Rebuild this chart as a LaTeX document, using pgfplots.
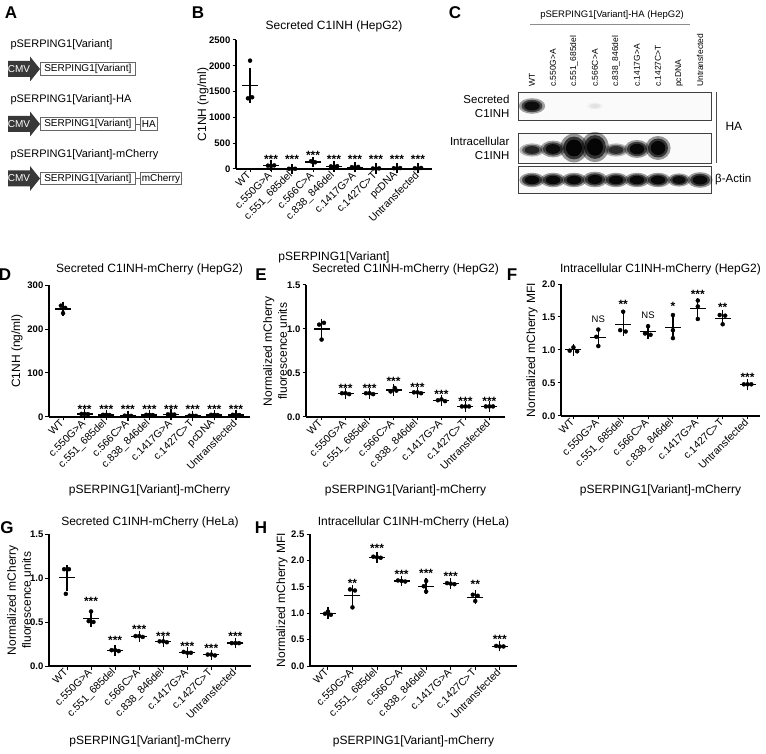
\documentclass[border=0pt]{standalone}
\usepackage{fontspec}
\setmainfont{Liberation Sans}
\usepackage{pgfplots}
\usepackage{pgfplotstable}
\pgfplotsset{compat=1.18}
\newcommand{\fs}[2]{\fontsize{#1}{#2}\selectfont}

\pgfplotsset{
  gp/.style={
    scale only axis, clip=false,
    axis x line*=bottom, axis y line*=left,
    axis line style={line width=1.3pt},
    every tick/.append style={line width=1pt, black},
    major tick length=3.5pt,
    tick align=outside,
    ymin=0,
    xticklabel style={rotate=45, anchor=east, font=\fs{10.5}{12}, inner sep=1.5pt},
    yticklabel style={font=\bfseries\fs{9.5}{11}, inner sep=2pt},
    label style={font=\fs{12}{15}},
    title style={font=\fs{12}{14}, anchor=center},
    ylabel style={anchor=center, align=center},
    xlabel style={anchor=center},
  },
  pts/.style={only marks, mark=*, mark size=2pt, black, mark options={fill=black}},
  mn/.style={only marks, mark=-, mark size=8pt, black, mark options={line width=1.3pt},
      error bars/y dir=both, error bars/y explicit,
      error bars/error bar style={line width=1.3pt, black},
      error bars/error mark options={mark size=5pt, line width=1.3pt, black}},
  ann/.style={draw=none, mark=none, nodes near coords, point meta=explicit symbolic,
      every node near coord/.append style={anchor=center, font=\bfseries\fs{12}{13}, inner sep=0pt, yshift=-2.5pt}},
  nsann/.style={draw=none, mark=none, nodes near coords, point meta=explicit symbolic,
      every node near coord/.append style={anchor=center, font=\fs{9.5}{10}, inner sep=0pt}},
  band/.style 2 args={scatter, only marks, mark=*, mark size=1pt,
      scatter/use mapped color={draw=none, fill=black},
      visualization depends on={#1*\thisrow{w} \as \bw},
      visualization depends on={#1*\thisrow{h} \as \bh},
      visualization depends on={#2*\thisrow{k} \as \bk},
      scatter/@pre marker code/.append code={\pgftransformxscale{\bw}\pgftransformyscale{\bh}\pgfsetfillopacity{\bk}\pgfsetstrokeopacity{0}\pgfsetlinewidth{0pt}}},
  blot/.style={scale only axis, width=193pt, xmin=518, xmax=711, xtick=\empty, ytick=\empty,
      axis line style={draw=black!75, line width=0.8pt}, axis background/.style={fill=black!2}, anchor=south west},
}

\pgfplotstableread{
x y w h k
532 -106 11 6.5 0.9
595 -106 7 3 0.05
}\bandsec
\pgfplotstableread{
x y w h k
532 -150 10.5 5.5 0.7
553 -149 10.5 7 0.9
574 -148 11.5 12 1
595 -147 11.5 12.5 1
616 -150 10.5 5.5 0.65
637 -149 10.5 7.5 0.95
658 -148 10.5 10 1
}\bandint
\pgfplotstableread{
x y w h k
532 -180 10.5 6 0.95
553 -180 10.5 6 0.95
574 -180 10.5 6 0.95
595 -179.5 10.5 6.5 0.95
616 -180 10.5 6 0.95
637 -180 10.5 6 0.95
658 -180 10.5 6 0.95
679 -180 9.5 5.5 0.9
700 -180 10.5 6.5 0.95
}\bandact

\newcommand{\construct}[1]{%
 \fill[black!78] (8pt,-8pt) -- (30pt,-8pt) -- (30pt,-12.5pt) -- (40pt,0pt) -- (30pt,12.5pt) -- (30pt,8pt) -- (8pt,8pt) -- cycle;
 \node[white, font=\fs{10}{12}] at (19pt,0) {CMV};
 \node[draw=black!60, line width=0.6pt, anchor=west, minimum height=12.5pt, minimum width=95pt, inner sep=1pt, font=\fs{10}{12}] at (40pt,0) {SERPING1[Variant]};
}

\begin{document}
\begin{tikzpicture}
\path[use as bounding box] (0,0) rectangle (766pt,753pt);

% ---------------- Panel A ----------------
\node[font=\bfseries\fs{17}{19}] at (11pt,740pt) {A};
\node[anchor=west, font=\fs{11}{13}] at (7pt,708pt) {pSERPING1[Variant]};
\begin{scope}[yshift=684pt]\construct{}\end{scope}
\node[anchor=west, font=\fs{11}{13}] at (7pt,653pt) {pSERPING1[Variant]-HA};
\begin{scope}[yshift=629pt]\construct{}
 \draw[black!60, line width=0.6pt] (135pt,0) -- (140pt,0);
 \node[draw=black!60, line width=0.6pt, anchor=west, minimum height=12.5pt, inner sep=1.5pt, font=\fs{10}{12}] at (140pt,0) {HA};
\end{scope}
\node[anchor=west, font=\fs{11}{13}] at (7pt,598pt) {pSERPING1[Variant]-mCherry};
\begin{scope}[yshift=574.5pt]\construct{}
 \draw[black!60, line width=0.6pt] (135pt,0) -- (140pt,0);
 \node[draw=black!60, line width=0.6pt, anchor=west, minimum height=12.5pt, inner sep=1.5pt, font=\fs{10}{12}] at (140pt,0) {mCherry};
\end{scope}

% ---------------- Panel B ----------------
\begin{axis}[gp, at={(236pt,584pt)}, anchor=south west, width=196pt, height=129pt,
  xmin=-0.67, xmax=8.67, ymax=2500, xtick={0,...,8},
  ytick={0,500,1000,1500,2000,2500}, yticklabels={0,500,1000,1500,2000,2500},
  xticklabels={WT,c.550G>A,c.551\_685del,c.566C>A,c.838\_846del,c.1417G>A,c.1427C>T,pcDNA,Untransfected},
  ylabel={C1NH (ng/ml)}, xlabel={pSERPING1[Variant]}, title={Secreted C1INH (HepG2)},
  ylabel style={at={([xshift=-33pt]axis description cs:0,0.5)}},
  xlabel style={at={([yshift=-88pt]axis description cs:0.5,0)}},
  title style={at={([yshift=8pt]axis description cs:0.5,1)}}]
\addplot[pts] table {
x y
0 2100
-0.1 1370
0.1 1390
0.85 65
1 60
1.15 70
1.85 5
2 5
2.15 5
2.9 150
3.1 130
3 135
3.85 50
4 45
4.15 55
4.85 35
5 30
5.15 40
5.85 10
6 8
6.15 12
6.85 15
7 12
7.15 18
7.85 15
8 10
8.15 20
};
\addplot[mn] table[x=x, y=m, y error=s] {
x m s
0 1620 240
1 65 3
2 5 1
3 138 6
4 50 3
5 35 3
6 10 1
7 15 2
8 15 3
};
\addplot[ann] table[x=x, y=y, meta=t] {
x y t
1 233 ***
2 233 ***
3 310 ***
4 233 ***
5 233 ***
6 233 ***
7 233 ***
8 233 ***
};
\end{axis}
\node[font=\bfseries\fs{17}{19}] at (198pt,740pt) {B};

% ---------------- Panel C (blot) ----------------
\node[font=\bfseries\fs{17}{19}] at (455pt,740pt) {C};
\node[font=\fs{9.5}{11}] at (612pt,738pt) {pSERPING1[Variant]-HA (HepG2)};
\draw[black!45, line width=1pt] (530pt,728pt) -- (690pt,728pt);
\foreach \x/\l in {532/WT, 553/c.550G>A, 574/c.551\_685del, 595/c.566C>A, 616/c.838\_846del, 637/c.1417G>A, 658/c.1427C>T, 679/pcDNA, 700/Untransfected}
  \node[rotate=90, anchor=west, font=\fs{8.5}{10}, inner sep=1pt] at (\x pt,665pt) {\l};
\begin{axis}[blot, at={(518pt,633pt)}, height=28pt, ymin=-120, ymax=-92]
\addplot[band={1.2}{0.4}] table {\bandsec};
\addplot[band={0.95}{0.65}] table {\bandsec};
\addplot[band={0.7}{0.9}] table {\bandsec};
\end{axis}
\begin{axis}[blot, at={(518pt,590pt)}, height=30pt, ymin=-163, ymax=-133]
\addplot[band={1.2}{0.4}] table {\bandint};
\addplot[band={0.95}{0.65}] table {\bandint};
\addplot[band={0.7}{0.9}] table {\bandint};
\end{axis}
\begin{axis}[blot, at={(518pt,560pt)}, height=27pt, ymin=-193, ymax=-166]
\addplot[band={1.2}{0.4}] table {\bandact};
\addplot[band={0.95}{0.65}] table {\bandact};
\addplot[band={0.7}{0.9}] table {\bandact};
\end{axis}
\node[anchor=east, align=right, font=\fs{11.5}{14}] at (513pt,647pt) {Secreted\\C1INH};
\node[anchor=east, align=right, font=\fs{11.5}{14}] at (513pt,605pt) {Intracellular\\C1INH};
\draw[black!70, line width=0.7pt] (716pt,661pt) -- (716pt,590pt);
\node[anchor=west, font=\fs{12}{14}] at (722pt,627pt) {HA};
\node[anchor=west, font=\fs{11.5}{14}, inner sep=1pt] at (714pt,573pt) {β-Actin};

% ---------------- Panel D ----------------
\begin{axis}[gp, at={(49pt,336pt)}, anchor=south west, width=201pt, height=132pt,
  xmin=-0.65, xmax=8.65, ymax=300, xtick={0,...,8},
  ytick={0,100,200,300}, yticklabels={0,100,200,300},
  xticklabels={WT,c.550G>A,c.551\_685del,c.566C>A,c.838\_846del,c.1417G>A,c.1427C>T,pcDNA,Untransfected},
  ylabel={C1NH (ng/ml)}, xlabel={pSERPING1[Variant]-mCherry}, title={Secreted C1INH-mCherry (HepG2)},
  ylabel style={at={([xshift=-32pt]axis description cs:0,0.5)}},
  xlabel style={at={([yshift=-73pt]axis description cs:0.5,0)}},
  title style={at={([yshift=10pt]axis description cs:0.5,1)}}]
\addplot[pts] table {
x y
-0.1 253
0.1 248
0 236
0.85 7
1 7
1.15 6.5
1.85 5
2 5
2.15 4.5
2.85 3
3 3
3.15 2.5
3.85 5
4 5
4.15 4.5
4.85 6
5 6
5.15 5.5
5.85 3
6 3
6.15 2.5
6.85 5
7 5
7.15 4.5
7.85 5
8 5
8.15 4.5
};
\addplot[mn] table[x=x, y=m, y error=s] {
x m s
0 245.7 5
1 6.8 0.3
2 4.8 0.3
3 2.8 0.3
4 4.8 0.3
5 5.8 0.3
6 2.8 0.3
7 4.8 0.3
8 4.8 0.3
};
\addplot[ann] table[x=x, y=y, meta=t] {
x y t
1 23 ***
2 23 ***
3 23 ***
4 23 ***
5 23 ***
6 23 ***
7 23 ***
8 23 ***
};
\end{axis}
\node[font=\bfseries\fs{17}{19}] at (5pt,478pt) {D};

% ---------------- Panel E ----------------
\begin{axis}[gp, at={(306pt,336pt)}, anchor=south west, width=199pt, height=132pt,
  xmin=-0.65, xmax=7.65, ymax=1.5, xtick={0,...,7},
  ytick={0,0.5,1,1.5}, yticklabels={0.0,0.5,1.0,1.5},
  xticklabels={WT,c.550G>A,c.551\_685del,c.566C>A,c.838\_846del,c.1417G>A,c.1427C>T,Untransfected},
  ylabel={Normalized mCherry\\fluorescence units}, xlabel={pSERPING1[Variant]-mCherry}, title={Secreted C1INH-mCherry (HepG2)},
  ylabel style={at={([xshift=-31pt]axis description cs:0,0.5)}},
  xlabel style={at={([yshift=-73pt]axis description cs:0.5,0)}},
  title style={at={([yshift=10pt]axis description cs:0.5,1)}}]
\addplot[pts] table {
x y
0.1 1.07
-0.1 1.05
0 0.88
0.85 0.27
1 0.27
1.15 0.26
1.85 0.27
2 0.27
2.15 0.26
3.05 0.33
2.88 0.29
3.12 0.30
3.85 0.28
4 0.28
4.15 0.27
4.85 0.19
5 0.20
5.15 0.18
5.85 0.12
6 0.12
6.15 0.12
6.85 0.12
7 0.12
7.15 0.12
};
\addplot[mn] table[x=x, y=m, y error=s] {
x m s
0 1.0 0.06
1 0.267 0.003
2 0.267 0.003
3 0.307 0.012
4 0.277 0.003
5 0.19 0.006
6 0.12 0.002
7 0.12 0.002
};
\addplot[ann] table[x=x, y=y, meta=t] {
x y t
1 0.35 ***
2 0.35 ***
3 0.435 ***
4 0.37 ***
5 0.29 ***
6 0.21 ***
7 0.21 ***
};
\end{axis}
\node[font=\bfseries\fs{17}{19}] at (261pt,478pt) {E};

% ---------------- Panel F ----------------
\begin{axis}[gp, at={(561pt,337pt)}, anchor=south west, width=199pt, height=132pt,
  xmin=-0.5, xmax=7.5, ymax=2.0, xtick={0,...,7},
  ytick={0,0.5,1,1.5,2}, yticklabels={0.0,0.5,1.0,1.5,2.0},
  xticklabels={WT,c.550G>A,c.551\_685del,c.566C>A,c.838\_846del,c.1417G>A,c.1427C>T,Untransfected},
  ylabel={Normalized mCherry MFI}, xlabel={pSERPING1[Variant]-mCherry}, title={Intracellular C1INH-mCherry (HepG2)},
  ylabel style={at={([xshift=-29pt]axis description cs:0,0.5)}},
  xlabel style={at={([yshift=-74pt]axis description cs:0.5,0)}},
  title style={at={([yshift=9pt]axis description cs:0.5,1)}}]
\addplot[pts] table {
x y
-0.15 0.99
0 1.04
0.15 0.98
1 1.31
0.92 1.20
1 1.06
2 1.58
1.88 1.30
2.1 1.28
3 1.36
2.88 1.25
3.1 1.23
4 1.53
4 1.30
4 1.18
5 1.75
5 1.66
5 1.47
5.88 1.53
6.1 1.52
6 1.39
6.85 0.48
7 0.48
7.15 0.48
};
\addplot[mn] table[x=x, y=m, y error=s] {
x m s
0 1.003 0.018
1 1.19 0.072
2 1.387 0.097
3 1.28 0.04
4 1.337 0.102
5 1.627 0.082
6 1.48 0.045
7 0.48 0.003
};
\addplot[ann] table[x=x, y=y, meta=t] {
x y t
2 1.73 **
4 1.70 *
5 1.88 ***
6 1.68 **
7 0.62 ***
};
\addplot[nsann] table[x=x, y=y, meta=t] {
x y t
1 1.47 NS
3 1.53 NS
};
\end{axis}
\node[font=\bfseries\fs{17}{19}] at (512pt,478pt) {F};

% ---------------- Panel G ----------------
\begin{axis}[gp, at={(49pt,87pt)}, anchor=south west, width=202pt, height=132pt,
  xmin=-0.75, xmax=7.65, ymax=1.5, xtick={0,...,7},
  ytick={0,0.5,1,1.5}, yticklabels={0.0,0.5,1.0,1.5},
  xticklabels={WT,c.550G>A,c.551\_685del,c.566C>A,c.838\_846del,c.1417G>A,c.1427C>T,Untransfected},
  ylabel={Normalized mCherry\\fluorescence units}, xlabel={pSERPING1[Variant]-mCherry}, title={Secreted C1INH-mCherry (HeLa)},
  ylabel style={at={([xshift=-30pt]axis description cs:0,0.5)}},
  xlabel style={at={([yshift=-75pt]axis description cs:0.5,0)}},
  title style={at={([yshift=6pt]axis description cs:0.5,1)}}]
\addplot[pts] table {
x y
-0.12 1.10
0.08 1.10
-0.05 0.82
1 0.62
0.9 0.51
1.1 0.50
1.85 0.18
2 0.18
2.15 0.17
2.85 0.34
3 0.34
3.15 0.33
3.85 0.28
4 0.28
4.15 0.27
4.85 0.16
5 0.15
5.15 0.15
5.85 0.13
6 0.13
6.15 0.12
6.85 0.26
7 0.26
7.15 0.26
};
\addplot[mn] table[x=x, y=m, y error=s] {
x m s
0 1.003 0.092
1 0.543 0.038
2 0.177 0.003
3 0.337 0.003
4 0.277 0.003
5 0.153 0.003
6 0.127 0.003
7 0.26 0.002
};
\addplot[ann] table[x=x, y=y, meta=t] {
x y t
1 0.76 ***
2 0.32 ***
3 0.44 ***
4 0.37 ***
5 0.25 ***
6 0.23 ***
7 0.36 ***
};
\end{axis}
\node[font=\bfseries\fs{17}{19}] at (7pt,225pt) {G};

% ---------------- Panel H ----------------
\begin{axis}[gp, at={(310pt,87pt)}, anchor=south west, width=207pt, height=132pt,
  xmin=-0.73, xmax=7.7, ymax=2.5, xtick={0,...,7},
  ytick={0,0.5,1,1.5,2,2.5}, yticklabels={0.0,0.5,1.0,1.5,2.0,2.5},
  xticklabels={WT,c.550G>A,c.551\_685del,c.566C>A,c.838\_846del,c.1417G>A,c.1427C>T,Untransfected},
  ylabel={Normalized mCherry MFI}, xlabel={pSERPING1[Variant]-mCherry}, title={Intracellular C1INH-mCherry (HeLa)},
  ylabel style={at={([xshift=-28pt]axis description cs:0,0.5)}},
  xlabel style={at={([yshift=-75pt]axis description cs:0.5,0)}},
  title style={at={([yshift=6pt]axis description cs:0.5,1)}}]
\addplot[pts] table {
x y
-0.12 0.99
0 1.03
0.12 0.97
0.9 1.45
1.1 1.43
1 1.11
1.85 2.07
2 2.06
2.15 2.05
2.85 1.62
3 1.61
3.15 1.60
4 1.61
3.9 1.51
4 1.41
4.85 1.57
5 1.56
5.15 1.55
5.9 1.35
6.1 1.33
6 1.23
6.85 0.38
7 0.37
7.15 0.37
};
\addplot[mn] table[x=x, y=m, y error=s] {
x m s
0 0.997 0.018
1 1.33 0.11
2 2.06 0.006
3 1.61 0.006
4 1.51 0.058
5 1.56 0.006
6 1.303 0.037
7 0.373 0.003
};
\addplot[ann] table[x=x, y=y, meta=t] {
x y t
1 1.61 **
2 2.28 ***
3 1.79 ***
4 1.80 ***
5 1.74 ***
6 1.59 **
7 0.56 ***
};
\end{axis}
\node[font=\bfseries\fs{17}{19}] at (261pt,225pt) {H};

\end{tikzpicture}
\end{document}
